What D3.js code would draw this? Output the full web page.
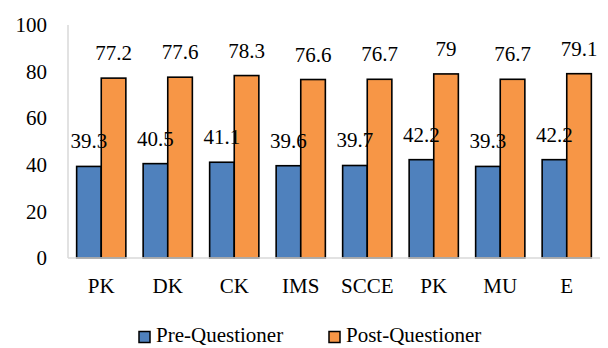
<!DOCTYPE html>
<html><head><meta charset="utf-8">
<script src="https://cdn.jsdelivr.net/npm/d3@7"></script>
</head><body style="margin:0">
<script>
const categories = ["PK","DK","CK","IMS","SCCE","PK","MU","E"];
const preValues  = [39.3,40.5,41.1,39.6,39.7,42.2,39.3,42.2];
const postValues = [77.2,77.6,78.3,76.6,76.7,79,76.7,79.1];
const seriesNames = ["Pre-Questioner","Post-Questioner"];
const yTicks = [0,20,40,60,80,100];

const W=608,H=348;
const fs = 21;
const FAM = "Liberation Serif";
const colors = ["#4F81BD","#F79646"];
const svg = d3.select("body").append("svg").attr("width",W).attr("height",H)
  .attr("font-family",FAM);

function txt(sel){
  sel.attr("font-family",FAM).attr("font-size",fs).attr("fill","#000");
}

const pLeft=68,pRight=600,pTop=25,pBottom=258;
const idx = categories.map((d,i)=>i);
const x = d3.scaleBand().domain(idx).range([pLeft,pRight]).paddingInner(0.26).paddingOuter(0.13);
const xs = d3.scaleBand().domain(seriesNames).range([0,x.bandwidth()]);
const y = d3.scaleLinear().domain([0,100]).range([pBottom,pTop]);

svg.append("line").attr("x1",pLeft).attr("x2",pLeft).attr("y1",pTop).attr("y2",pBottom)
  .attr("stroke","#d9d9d9").attr("stroke-width",1.5);

const yAxis = svg.append("g").attr("transform",`translate(${pLeft},0)`)
  .call(d3.axisLeft(y).tickValues(yTicks).tickSize(0).tickPadding(21));
yAxis.attr("font-family",FAM).attr("font-size",fs);
yAxis.select(".domain").remove();
txt(yAxis.selectAll("text"));

const data = idx.map(i=>({i, vals:[preValues[i],postValues[i]]}));
const g = svg.append("g").attr("font-family",FAM);
data.forEach(d=>{
  d.vals.forEach((v,s)=>{
    const bx = x(d.i)+xs(seriesNames[s]);
    g.append("rect").attr("x",bx).attr("y",y(v)).attr("width",xs.bandwidth())
      .attr("height",y(0)-y(v)).attr("fill",colors[s]).attr("stroke","#000").attr("stroke-width",1.6);
  });
});
data.forEach(d=>{
  d.vals.forEach((v,s)=>{
    const bx = x(d.i)+xs(seriesNames[s]);
    txt(g.append("text").attr("x",bx+xs.bandwidth()/2).attr("y",y(v)-18)
      .attr("text-anchor","middle").text(v));
  });
});

svg.append("line").attr("x1",pLeft).attr("x2",pRight).attr("y1",pBottom).attr("y2",pBottom)
  .attr("stroke","#d9d9d9").attr("stroke-width",1.5);

const xAxis = svg.append("g").attr("transform",`translate(0,${pBottom})`)
  .call(d3.axisBottom(x).tickSize(0).tickPadding(20).tickFormat(i=>categories[i]));
xAxis.attr("font-family",FAM).attr("font-size",fs);
xAxis.select(".domain").remove();
txt(xAxis.selectAll("text"));

const leg = svg.append("g").attr("font-family",FAM);
const legX = [139,329];
seriesNames.forEach((n,s)=>{
  leg.append("rect").attr("x",legX[s]).attr("y",331.5).attr("width",11).attr("height",11)
    .attr("fill",colors[s]).attr("stroke","#000").attr("stroke-width",1.5);
  txt(leg.append("text").attr("x",legX[s]+17).attr("y",342).text(n));
});
</script>
</body></html>
